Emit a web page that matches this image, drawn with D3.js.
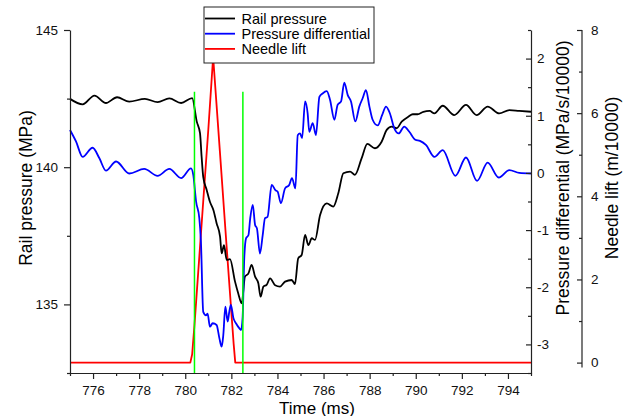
<!DOCTYPE html>
<html>
<head>
<meta charset="utf-8">
<script src="https://cdn.jsdelivr.net/npm/d3@7/dist/d3.min.js"></script>
<style>
  html, body { margin: 0; padding: 0; background: #fff; }
  svg { display: block; font-family: Arial, "Liberation Sans", sans-serif; }
  .axis path, .axis line { stroke: #222; stroke-width: 1.2px; }
  .axis text { fill: #111; font-size: 13.5px; font-family: Arial, "Liberation Sans", sans-serif; }
</style>
</head>
<body>
<svg id="chart" width="632" height="416"></svg>
<script>
// Rail pressure (MPa) over time (ms)
const railTime = [775.0, 775.55, 776.06, 776.56, 777.04, 777.57, 778.25, 778.8, 779.31, 779.82,
  780.3, 780.5, 780.64, 780.71, 780.78, 780.93, 781.07, 781.22, 781.36, 781.51,
  781.58, 781.68, 781.8, 781.94, 782.16, 782.3, 782.45, 782.59, 782.74, 782.88,
  783.03, 783.17, 783.27, 783.39, 783.53, 783.68, 783.9, 784.11, 784.33, 784.62,
  784.76, 784.9, 785.05, 785.2, 785.34, 785.49, 785.63, 785.85, 786.14, 786.42,
  786.64, 786.86, 787.15, 787.36, 787.65, 787.9, 788.23, 788.52, 788.74, 788.95,
  789.17, 789.39, 789.68, 789.87, 790.08, 790.33, 790.6, 790.81, 791.17, 791.67,
  792.18, 792.64, 793.12, 793.62, 794.06, 794.49, 795.0];
const railPressure = [142.49, 142.29, 142.61, 142.34, 142.55, 142.39, 142.49, 142.37, 142.51, 142.34,
  142.52, 141.66, 141.24, 140.38, 139.65, 139.17, 138.74, 138.44, 137.96, 137.47,
  136.86, 137.16, 136.62, 136.65, 135.83, 135.4, 135.04, 136.01, 136.13, 136.44,
  136.01, 135.77, 135.28, 135.65, 135.71, 135.95, 135.7, 135.65, 135.83, 135.89,
  135.74, 136.68, 136.8, 137.53, 137.16, 137.41, 137.35, 138.26, 138.68, 138.56,
  139.05, 139.78, 139.84, 139.72, 140.32, 140.85, 140.69, 140.93, 141.36, 141.48,
  141.42, 141.66, 141.84, 141.93, 141.93, 142.02, 142.05, 141.96, 142.24, 141.9,
  142.27, 141.9, 142.21, 141.96, 142.08, 142.05, 142.02];

// Pressure differential (MPa/s/10000)
const diffTime = [775.0, 775.26, 775.55, 775.98, 776.27, 776.56, 777.0, 777.57, 778.22, 778.8,
  779.31, 779.82, 780.25, 780.35, 780.47, 780.61, 780.68, 780.78, 780.9, 780.97,
  781.07, 781.19, 781.36, 781.48, 781.58, 781.65, 781.74, 781.84, 781.91, 781.98,
  782.09, 782.2, 782.35, 782.42, 782.49, 782.56, 782.64, 782.74, 782.82, 782.93,
  783.03, 783.11, 783.24, 783.36, 783.46, 783.57, 783.75, 783.91, 784.01, 784.15,
  784.33, 784.51, 784.63, 784.78, 784.88, 784.98, 785.07, 785.2, 785.31, 785.38,
  785.53, 785.67, 785.82, 785.96, 786.14, 786.28, 786.47, 786.61, 786.76, 786.9,
  787.05, 787.19, 787.38, 787.55, 787.7, 787.84, 787.99, 788.13, 788.35, 788.54,
  788.71, 788.88, 789.07, 789.26, 789.5, 789.72, 789.98, 790.18, 790.44, 790.81,
  791.17, 791.72, 792.18, 792.66, 793.12, 793.6, 794.06, 794.49, 795.0];
const diffValue = [0.75, 0.55, 0.28, 0.44, 0.26, 0.04, 0.2, -0.01, 0.07, -0.05,
  0.07, -0.09, 0.08, -0.04, -0.5, -0.79, -1.2, -2.43, -2.49, -2.46,
  -2.69, -2.63, -2.66, -2.89, -3.04, -2.84, -2.34, -2.6, -2.43, -2.31,
  -2.54, -2.63, -2.72, -2.75, -2.52, -1.49, -1.14, -1.09, -0.79, -0.56,
  -0.91, -0.97, -1.41, -1.09, -0.79, -0.77, -0.21, -0.3, -0.33, -0.53,
  -0.27, -0.21, -0.09, -0.27, 0.66, 0.69, 0.61, 1.25, 1.04, 0.72,
  0.87, 0.66, 1.33, 1.39, 1.43, 1.28, 0.93, 1.19, 1.25, 1.58,
  1.36, 1.25, 0.9, 1.16, 1.31, 1.45, 1.16, 0.93, 0.83, 1.01,
  1.16, 1.04, 0.78, 0.69, 0.81, 0.72, 0.58, 0.56, 0.49, 0.28,
  0.4, -0.05, 0.27, -0.14, 0.18, -0.08, 0.05, 0.0, -0.01];

// Needle lift (m/10000)
const needleTime = [775.0, 780.22, 780.3, 780.4, 780.7, 781.0, 781.21, 781.5, 781.8, 782.1, 782.17, 795.0];
const needleLift = [0, 0, 0.2, 0.9, 3.25, 5.6, 7.35, 5.1, 2.75, 0.45, 0, 0];

// Injection start / end markers (time, top value on the rail pressure scale)
const markerTime = [780.4, 782.5];
const markerTop = [142.75, 142.75];

// Axis ticks
const timeTicks = [776, 778, 780, 782, 784, 786, 788, 790, 792, 794];
const timeMinor = [775, 777, 779, 781, 783, 785, 787, 789, 791, 793, 795];
const railTicks = [135, 140, 145];
const railMinor = [132.5, 137.5, 142.5];
const diffTicks = [-3, -2, -1, 0, 1, 2];
const diffMinor = [-3.5, -2.5, -1.5, -0.5, 0.5, 1.5, 2.5];
const needleTicks = [0, 2, 4, 6, 8];
const needleMinor = [1, 3, 5, 7];

const seriesNames = ["Rail pressure", "Pressure differential", "Needle lift"];
const seriesColors = ["#000000", "#0000ff", "#ff0000"];

const svg = d3.select("#chart");

const x = d3.scaleLinear().domain([775, 795]).range([70, 531]);
const yRail = d3.scaleLinear().domain([132.5, 145]).range([373, 30]);
const yDiff = d3.scaleLinear().domain([-3.5, 2.5]).range([373, 30]);
const yNeedle = d3.scaleLinear().domain([-0.25, 8]).range([373, 30]);

const fmt = d => String(d);

// Data lines
const plot = svg.append("g");

function drawSeries(ts, vs, yScale, color, curve, width) {
  const pts = ts.map((t, i) => [t, vs[i]]);
  const line = d3.line()
    .x(d => x(d[0]))
    .y(d => yScale(d[1]))
    .curve(curve);
  plot.append("path")
    .datum(pts)
    .attr("fill", "none")
    .attr("stroke", color)
    .attr("stroke-width", width)
    .attr("stroke-linejoin", "round")
    .attr("d", line);
}

drawSeries(needleTime, needleLift, yNeedle, seriesColors[2], d3.curveLinear, 1.8);
drawSeries(railTime, railPressure, yRail, seriesColors[0], d3.curveMonotoneX, 1.8);
drawSeries(diffTime, diffValue, yDiff, seriesColors[1], d3.curveMonotoneX, 1.8);

// Injection markers
plot.selectAll("line.marker")
  .data(markerTime.map((t, i) => ({ t, top: markerTop[i] })))
  .join("line")
  .attr("class", "marker")
  .attr("x1", d => x(d.t)).attr("x2", d => x(d.t))
  .attr("y1", d => yRail(d.top)).attr("y2", yRail(132.5))
  .attr("stroke", "#00ff00")
  .attr("stroke-width", 1.5);

// Axes
function addAxis(axisFn, transform, ticks, minor, size, pad, minorSize) {
  const g = svg.append("g").attr("class", "axis").attr("transform", transform);
  g.call(axisFn.tickValues(minor).tickSize(minorSize).tickFormat(""));
  g.selectAll(".domain").remove();
  const g2 = svg.append("g").attr("class", "axis").attr("transform", transform);
  g2.call(axisFn.tickValues(ticks).tickSize(size).tickPadding(pad).tickFormat(fmt).tickSizeOuter(0));
  return g2;
}

addAxis(d3.axisBottom(x), "translate(0,373)", timeTicks, timeMinor, 6, 6, 3);
addAxis(d3.axisLeft(yRail), "translate(70,0)", railTicks, railMinor, 6, 6, 3);
addAxis(d3.axisRight(yDiff), "translate(531,0)", diffTicks, diffMinor, -5, 6, -3);
const nAxis = addAxis(d3.axisRight(yNeedle), "translate(582,0)", needleTicks, needleMinor, -5, 9, -3);
nAxis.select(".domain").attr("d", `M0,${yNeedle(8)}V${yNeedle(-0.12)}`);

// Axis titles
svg.append("text")
  .attr("x", 317).attr("y", 413.5)
  .attr("text-anchor", "middle")
  .attr("font-size", 17)
  .text("Time (ms)");

svg.append("text")
  .attr("transform", "translate(25.5,188) rotate(-90)")
  .attr("text-anchor", "middle")
  .attr("dominant-baseline", "central")
  .attr("font-size", 17.5)
  .text("Rail pressure (MPa)");

svg.append("text")
  .attr("transform", "translate(563,178) rotate(-90)")
  .attr("text-anchor", "middle")
  .attr("dominant-baseline", "central")
  .attr("font-size", 17.5)
  .text("Pressure differential (MPa/s/10000)");

svg.append("text")
  .attr("transform", "translate(611.5,178) rotate(-90)")
  .attr("text-anchor", "middle")
  .attr("dominant-baseline", "central")
  .attr("font-size", 17.5)
  .text("Needle lift (m/10000)");

// Legend
const legend = svg.append("g").attr("transform", "translate(204,7)");
legend.append("rect")
  .attr("width", 170).attr("height", 56)
  .attr("fill", "#fff").attr("stroke", "#222").attr("stroke-width", 1);
const rows = legend.selectAll("g.row")
  .data(seriesNames)
  .join("g")
  .attr("class", "row")
  .attr("transform", (d, i) => `translate(0,${11.5 + i * 15.2})`);
rows.append("line")
  .attr("x1", 1).attr("x2", 31)
  .attr("stroke", (d, i) => seriesColors[i])
  .attr("stroke-width", 1.8);
rows.append("text")
  .attr("x", 37.5)
  .attr("dominant-baseline", "central")
  .attr("font-size", 14.5)
  .text(d => d);
</script>
</body>
</html>
